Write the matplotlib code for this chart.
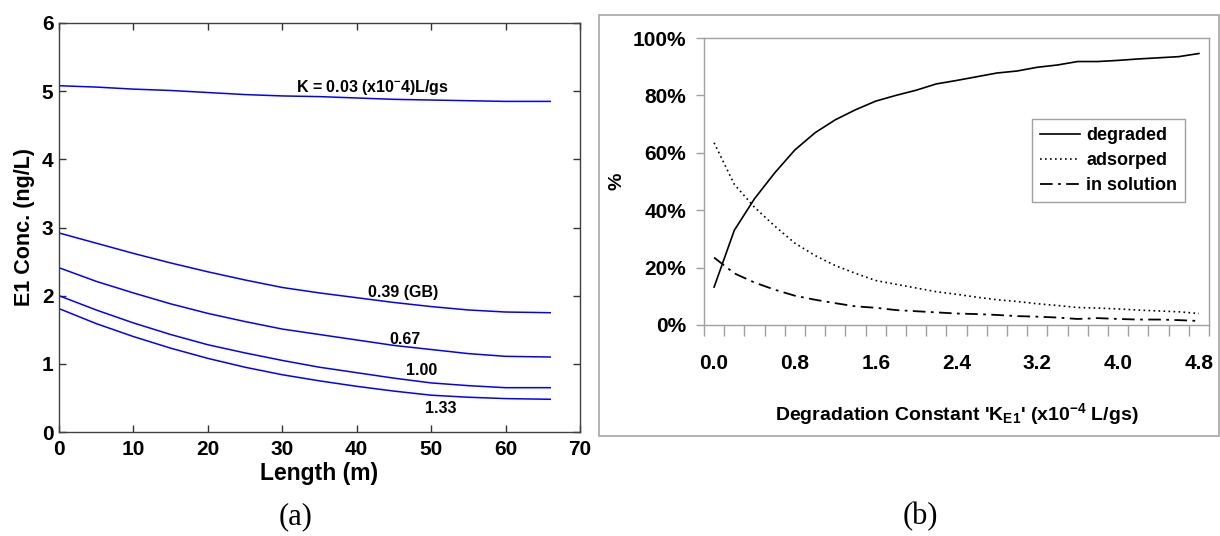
import matplotlib
matplotlib.use("Agg")
import matplotlib.pyplot as plt
from matplotlib.patches import Rectangle
from matplotlib.ticker import PercentFormatter, FixedLocator

plt.rcParams['font.family'] = ['Liberation Sans', 'DejaVu Sans']
plt.rcParams['font.weight'] = 'bold'
plt.rcParams['mathtext.fontset'] = 'custom'
plt.rcParams['mathtext.rm'] = 'Liberation Sans:bold'
plt.rcParams['mathtext.it'] = 'Liberation Sans:bold'
plt.rcParams['mathtext.default'] = 'rm'

# (a) E1 concentration along the channel, one curve per K value
length_m = [0, 5, 10, 15, 20, 25, 30, 35, 40, 45, 50, 55, 60, 66]
conc_k003 = [5.08, 5.06, 5.03, 5.01, 4.98, 4.95, 4.93, 4.92, 4.90, 4.88, 4.87, 4.86, 4.85, 4.85]
conc_k039 = [2.92, 2.77, 2.62, 2.48, 2.35, 2.23, 2.12, 2.04, 1.97, 1.90, 1.84, 1.79, 1.76, 1.75]
conc_k067 = [2.41, 2.21, 2.04, 1.88, 1.74, 1.62, 1.51, 1.43, 1.35, 1.27, 1.21, 1.15, 1.11, 1.10]
conc_k100 = [2.00, 1.79, 1.60, 1.43, 1.28, 1.16, 1.05, 0.95, 0.87, 0.79, 0.72, 0.68, 0.65, 0.65]
conc_k133 = [1.81, 1.59, 1.40, 1.23, 1.08, 0.95, 0.84, 0.75, 0.67, 0.60, 0.54, 0.51, 0.49, 0.48]
curve_labels = ["K = 0.03 (x10$^{-}$4)L/gs", "0.39 (GB)", "0.67", "1.00", "1.33"]
label_x = [42.1, 46.3, 46.5, 48.7, 51.3]
label_y = [5.06, 2.05, 1.36, 0.895, 0.35]

# (b) fate of E1 vs degradation constant
k_values = [0.0, 0.2, 0.4, 0.6, 0.8, 1.0, 1.2, 1.4, 1.6, 1.8, 2.0, 2.2, 2.4,
            2.6, 2.8, 3.0, 3.2, 3.4, 3.6, 3.8, 4.0, 4.2, 4.4, 4.6, 4.8]
degraded = [13.2, 33, 44, 53, 61, 67, 71.5, 75, 78, 80, 81.8, 84, 85.2, 86.5, 87.8,
            88.5, 89.8, 90.6, 91.8, 91.8, 92.2, 92.7, 93.1, 93.5, 94.6]
adsorped = [63.5, 49, 41, 34.5, 28.5, 24.2, 20.7, 18, 15.5, 14.2, 12.9, 11.6, 10.7, 9.7,
            8.8, 8.2, 7.4, 6.8, 6.1, 5.9, 5.6, 5.2, 4.9, 4.6, 4.0]
in_solution = [23.5, 18, 14.8, 12.3, 10.2, 8.8, 7.6, 6.5, 6, 5.2, 4.8, 4.4, 4, 3.8, 3.5,
               3.1, 2.9, 2.6, 2.1, 2.4, 2.1, 1.9, 1.9, 1.7, 1.4]

fig = plt.figure(figsize=(12.2, 5.36), dpi=100)

# ---- panel (a)
ax1 = fig.add_axes([59 / 1220, 104 / 536, 521 / 1220, 409 / 536])
for c in [conc_k003, conc_k039, conc_k067, conc_k100, conc_k133]:
    ax1.plot(length_m, c, color='#0000ff', lw=1.1)
for t, x, y in zip(curve_labels, label_x, label_y):
    ax1.text(x, y, t, fontsize=11.5, fontweight='bold', ha='center', va='center')
ax1.set_xlim(0, 70)
ax1.set_ylim(0, 6)
ax1.set_xticks(range(0, 71, 10))
ax1.set_yticks(range(0, 7))
ax1.tick_params(direction='in', top=True, right=True, length=5, width=1,
                labelsize=15, color='#333333')
ax1.tick_params(axis='x', pad=6)
ax1.tick_params(axis='y', pad=4)
for s in ax1.spines.values():
    s.set_color('#404040')
    s.set_linewidth(1)
ax1.set_xlabel('Length (m)', fontsize=16.5, fontweight='bold', labelpad=2)
ax1.set_ylabel('E1 Conc. (ng/L)', fontsize=15.5, fontweight='bold', labelpad=5)

# ---- panel (b)
fig.patches.append(Rectangle((599 / 1220, 100 / 536), 620 / 1220, 421 / 536,
                             transform=fig.transFigure, fill=False,
                             edgecolor='#a6a6a6', lw=1.2))
ax2 = fig.add_axes([704 / 1220, 211 / 536, 505 / 1220, 287 / 536])
idx = list(range(len(k_values)))
ax2.plot(idx, degraded, color='black', lw=1.2, label='degraded')
ax2.plot(idx, adsorped, color='black', lw=1.2, ls=(0, (1, 2)), label='adsorped')
ax2.plot(idx, in_solution, color='black', lw=1.3, ls=(0, (7, 3, 1.5, 3)), label='in solution')
ax2.set_xlim(-0.5, len(k_values) - 0.5)
ax2.set_ylim(0, 100)
ax2.set_yticks(range(0, 101, 20))
ax2.yaxis.set_major_formatter(PercentFormatter(100, decimals=0))
ax2.xaxis.set_major_locator(FixedLocator([i - 0.5 for i in range(len(k_values) + 1)]))
ax2.set_xticklabels([])
ax2.set_xticks(idx[::4], [f"{k_values[i]:.1f}" for i in idx[::4]], minor=True)
ax2.tick_params(axis='x', which='major', direction='out', length=8, width=1, color='#a0a0a0')
ax2.tick_params(axis='x', which='minor', length=0, pad=21, labelsize=15)
ax2.tick_params(axis='y', direction='out', length=6, width=1, color='#a0a0a0',
                labelsize=15, pad=7)
for s in ax2.spines.values():
    s.set_color('#a0a0a0')
    s.set_linewidth(1)
ax2.set_xlabel("Degradation Constant 'K$_{E1}$' (x10$^{-4}$ L/gs)", fontsize=14,
               fontweight='bold', labelpad=20)
ax2.set_ylabel('%', fontsize=14, fontweight='bold', labelpad=5)
leg = ax2.legend(loc='upper left', bbox_to_anchor=(0.6495, 0.7178), borderaxespad=0,
                 handlelength=2.2, handletextpad=0.35, labelspacing=0.45,
                 borderpad=0.45, fancybox=False, framealpha=1,
                 prop={'weight': 'bold', 'size': 13})
leg.get_frame().set_edgecolor('#a0a0a0')
leg.get_frame().set_linewidth(1)

# panel captions
fig.text(296 / 1220, 1 - 517 / 536, '(a)', fontsize=22, fontweight='normal',
         family=['Liberation Serif'], ha='center', va='center')
fig.text(920 / 1220, 1 - 517 / 536, '(b)', fontsize=22, fontweight='normal',
         family=['Liberation Serif'], ha='center', va='center')

fig.savefig('out.png', dpi=100)
